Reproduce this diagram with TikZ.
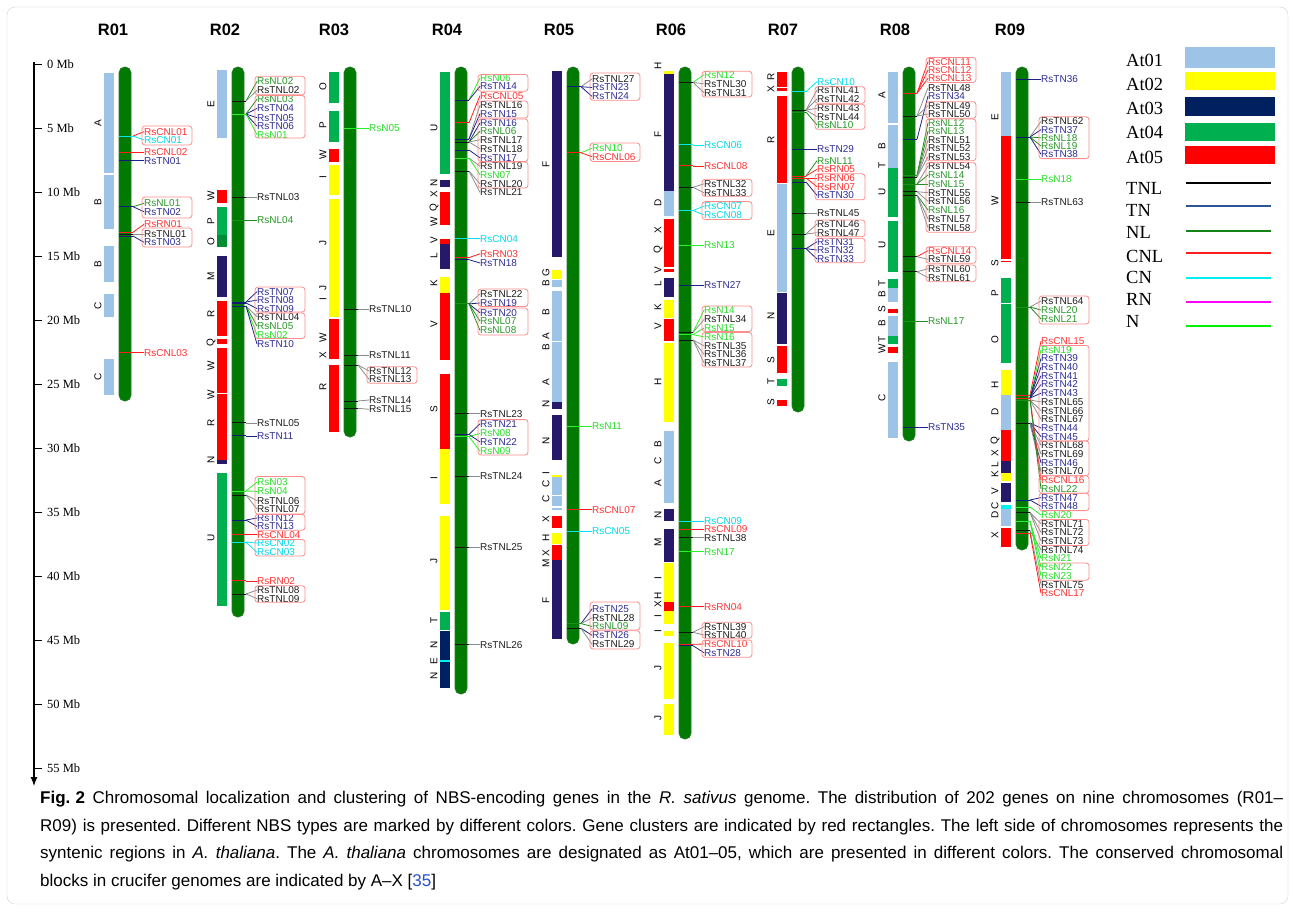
\documentclass[tikz,border=0pt]{standalone}
\usepackage{fontspec}
\setmainfont{Liberation Serif}
\newfontfamily\arialfont{Liberation Sans}
\usetikzlibrary{arrows.meta}
\frenchspacing

\definecolor{atone}{RGB}{157,195,230}
\definecolor{attwo}{RGB}{255,255,0}
\definecolor{atthree}{RGB}{0,32,96}
\definecolor{atthreeb}{RGB}{38,26,104}
\definecolor{atfour}{RGB}{0,176,80}
\definecolor{atfourd}{RGB}{0,140,50}
\definecolor{atfive}{RGB}{255,0,0}
\definecolor{chrgreen}{RGB}{0,122,0}
\definecolor{clured}{RGB}{255,140,140}
\definecolor{TNLc}{RGB}{20,20,20}   \definecolor{TNLt}{RGB}{30,30,30}   \definecolor{TNLk}{RGB}{140,140,140}
\definecolor{TNc}{RGB}{20,25,120}   \definecolor{TNt}{RGB}{45,45,150}   \definecolor{TNk}{RGB}{30,35,130}
\definecolor{NLc}{RGB}{30,140,30}   \definecolor{NLt}{RGB}{40,150,40}   \definecolor{NLk}{RGB}{30,140,30}
\definecolor{CNLc}{RGB}{255,30,30}  \definecolor{CNLt}{RGB}{255,50,50}  \definecolor{CNLk}{RGB}{255,30,30}
\definecolor{CNc}{RGB}{0,230,240}   \definecolor{CNt}{RGB}{0,215,235}   \definecolor{CNk}{RGB}{0,230,240}
\definecolor{RNc}{RGB}{255,30,30}   \definecolor{RNt}{RGB}{255,50,50}   \definecolor{RNk}{RGB}{255,30,30}
\definecolor{Nc}{RGB}{40,240,40}    \definecolor{Nt}{RGB}{40,220,40}    \definecolor{Nk}{RGB}{40,240,40}
\definecolor{legTN}{RGB}{47,85,151}
\definecolor{legNL}{RGB}{20,130,20}
\definecolor{legCN}{RGB}{0,240,240}
\definecolor{legRN}{RGB}{255,0,255}
\definecolor{legN}{RGB}{0,240,0}
\definecolor{citeblue}{RGB}{40,80,200}

\tikzset{
  chrtitle/.style={font=\arialfont\bfseries\fontsize{16.5}{17}\selectfont, inner sep=0pt},
  chrbody/.style={fill=chrgreen, draw=chrgreen!70!gray, line width=0.6pt, rounded corners=5.5pt},
  blklab/.style={font=\arialfont\fontsize{10}{10}\selectfont, rotate=90, inner sep=0pt},
  gtxt/.style={font=\arialfont\fontsize{10}{10}\selectfont, inner sep=0pt, anchor=west, text=#1t},
  gline/.style={draw=#1c, line width=1pt},
  glink/.style={draw=#1k, line width=0.8pt},
  clubox/.style={draw=clured, line width=0.8pt, rounded corners=3pt},
  mbtick/.style={font=\fontsize{12.5}{13}\selectfont, inner sep=0pt, anchor=west},
  leglab/.style={font=\fontsize{18.5}{19}\selectfont, inner sep=0pt, anchor=west},
  legline/.style={line width=2.2pt},
  captxt/.style={font=\arialfont\fontsize{17}{19}\selectfont, inner sep=0pt, anchor=base west}
}

\newcount\bltno
\newcommand\chrbar[3]{
  \node[chrtitle] (#3) at (#1,30) {#3};
  \draw[chrbody] (\bx,67) rectangle (\bx+12,#2);
}
\newcommand\blk[3]{\fill[#3] (\bx-15,#1) rectangle (\bx-5,#2);}
\newcommand\blt[2]{\global\advance\bltno by 1
  \node[blklab] (blt\the\bltno) at (\bx-21,#1) {#2};}
\newcommand\gn[4]{
  \coordinate (#4-g) at (\bx,#1);
  \coordinate (#4-e) at (\bx+14,#1);
  \node[gtxt=#3] (#4) at (\bx+25,#2) {#4};
  \draw[glink=#3] (#4-e) -- (#4.west);
  \draw[gline=#3] (#4-g) -- (#4-e);
}
\newcommand\clu[2]{\draw[clubox] (\bx+23,#1) rectangle (\bx+73,#2);}
\newcommand\capline[1]{\makebox[1243pt][s]{#1}}

\begin{document}
\begin{tikzpicture}[x=1pt, y=-1pt]
  \useasboundingbox (0,0) rectangle (1295,911);
  \draw[gray!35, rounded corners=8pt] (7,7) rectangle (1288,904);

  \coordinate (axtop) at (34,62);
  \coordinate (axend) at (34,786);
  \draw[line width=1.2pt, -{Latex[length=9pt,width=7pt]}] (axtop) -- (axend);
  \foreach \m in {0,5,...,55}{
    \draw[line width=1pt] (34,{64.3+12.8*\m}) -- ++(8,0);
    \node[mbtick] (mb\m) at (47,{64.3+12.8*\m}) {\m\ Mb};
  }

  \def\bx{119}
  \chrbar{113}{401}{R01}
  \blk{73}{173}{atone}\blk{175}{229}{atone}\blk{246}{282}{atone}
  \blk{294}{317}{atone}\blk{359}{395}{atone}
  \blt{123}{A}\blt{202}{B}\blt{264}{B}\blt{305.5}{C}\blt{377}{C}
  \gn{136}{131.7}{CNL}{RsCNL01}
  \gn{136}{140}{CN}{RsCN01}
  \gn{152.3}{152.3}{CNL}{RsCNL02}
  \gn{160.7}{160.7}{TN}{RsTN01}
  \gn{206.7}{203.3}{NL}{RsNL01}
  \gn{206.7}{211.7}{TN}{RsTN02}
  \gn{232.3}{224.3}{RN}{RsRN01}
  \gn{234}{234}{TNL}{RsTNL01}
  \gn{236}{242.3}{TN}{RsTN03}
  \gn{352.7}{352.7}{CNL}{RsCNL03}
  \clu{126}{145}\clu{197}{218}\clu{228}{247}

  \def\bx{232}
  \chrbar{225}{617}{R02}
  \blk{70}{138}{atone}\blk{190}{203}{atfive}\blk{206.5}{235}{atfour}\blk{235}{247}{atfourd}
  \blk{256}{297}{atthreeb}\blk{301}{336}{atfive}\blk{338.6}{344}{atfive}\blk{348}{393}{atfive}
  \blk{394}{460}{atfive}\blk{460}{463.5}{atthreeb}\blk{473}{606}{atfour}
  \blt{104}{E}\blt{196}{W}\blt{221}{P}\blt{241.6}{O}\blt{276.8}{M}\blt{313.8}{R}
  \blt{343}{Q}\blt{365.6}{W}\blt{395}{W}\blt{423}{R}\blt{460}{N}\blt{537.6}{U}
  \gn{101}{81.4}{NL}{RsNL02}
  \gn{101}{90.3}{TNL}{RsTNL02}
  \gn{114}{99.2}{NL}{RsNL03}
  \gn{114}{108.4}{TN}{RsTN04}
  \gn{114}{117.7}{TN}{RsTN05}
  \gn{114}{126.2}{TN}{RsTN06}
  \gn{114}{134.7}{N}{RsN01}
  \gn{197.2}{197.2}{TNL}{RsTNL03}
  \gn{220.5}{220.5}{NL}{RsNL04}
  \gn{302}{291.6}{TN}{RsTN07}
  \gn{302}{300.1}{TN}{RsTN08}
  \gn{303}{308.6}{TN}{RsTN09}
  \gn{306}{316.7}{TNL}{RsTNL04}
  \gn{306}{326}{NL}{RsNL05}
  \gn{306}{334.9}{N}{RsN02}
  \gn{306}{344.1}{TN}{RsTN10}
  \gn{422.9}{422.9}{TNL}{RsTNL05}
  \gn{435.9}{435.9}{TN}{RsTN11}
  \gn{491}{482.1}{N}{RsN03}
  \gn{491}{491.4}{N}{RsN04}
  \gn{495}{500.6}{TNL}{RsTNL06}
  \gn{495}{509.1}{TNL}{RsTNL07}
  \gn{520}{518}{TN}{RsTN12}
  \gn{520}{526.5}{TN}{RsTN13}
  \gn{534.6}{534.6}{CNL}{RsCNL04}
  \gn{542}{543.1}{CN}{RsCN02}
  \gn{542}{552.4}{CN}{RsCN03}
  \gn{580.9}{580.9}{RN}{RsRN02}
  \gn{594}{590.1}{TNL}{RsTNL08}
  \gn{594}{598.6}{TNL}{RsTNL09}
  \clu{76.3}{94.8}\clu{95.5}{138}\clu{287}{312}\clu{313}{338.5}
  \clu{476.5}{514}\clu{514.5}{530.2}\clu{539.4}{556}\clu{585.7}{602.3}

  \def\bx{344}
  \chrbar{334}{437}{R03}
  \blk{72}{103}{atfour}\blk{111}{142}{atfour}\blk{149}{162}{atfive}\blk{165}{195}{attwo}
  \blk{199}{317}{attwo}\blk{319}{359}{atfive}\blk{365}{432}{atfive}
  \blt{86.7}{O}\blt{125}{P}\blt{155}{W}\blt{176.7}{I}\blt{243.3}{J}\blt{288}{J}\blt{299}{I}
  \blt{338}{W}\blt{355}{X}\blt{387}{R}
  \gn{128.3}{128.3}{N}{RsN05}
  \gn{309.3}{309.3}{TNL}{RsTNL10}
  \gn{355}{355}{TNL}{RsTNL11}
  \gn{365}{371}{TNL}{RsTNL12}
  \gn{365}{379.3}{TNL}{RsTNL13}
  \gn{401}{400}{TNL}{RsTNL14}
  \gn{408.3}{409.3}{TNL}{RsTNL15}
  \clu{366.7}{383.3}

  \def\bx{455}
  \chrbar{447}{694}{R04}
  \blk{72}{174}{atfour}\blk{180}{187}{atthreeb}\blk{192}{225}{atfive}\blk{239}{244}{atfive}
  \blk{244}{269}{atthreeb}\blk{276.5}{292.5}{attwo}\blk{292.5}{360}{atfive}\blk{374}{449}{atfive}
  \blk{449}{504}{attwo}\blk{516}{610}{attwo}\blk{611.5}{630}{atfour}\blk{631}{659.5}{atthree}
  \blk{659.5}{662}{legCN}\blk{662}{688}{atthree}
  \blt{128}{U}\blt{183}{N}\blt{194}{X}\blt{208}{Q}\blt{222}{W}\blt{240}{V}\blt{255.5}{L}
  \blt{283}{K}\blt{324}{V}\blt{409.5}{S}\blt{477.7}{I}\blt{561}{J}\blt{620}{T}\blt{645}{N}
  \blt{661.6}{E}\blt{675.5}{N}
  \gn{100}{77.9}{N}{RsN06}
  \gn{100}{86.3}{TN}{RsTN14}
  \gn{122.9}{95.6}{CNL}{RsCNL05}
  \gn{139}{105.2}{TNL}{RsTNL16}
  \gn{139}{113.7}{TN}{RsTN15}
  \gn{142}{122.9}{TN}{RsTN16}
  \gn{142}{131.3}{NL}{RsNL06}
  \gn{142}{139.7}{TNL}{RsTNL17}
  \gn{142}{148.6}{TNL}{RsTNL18}
  \gn{150}{157.8}{TN}{RsTN17}
  \gn{158}{166.3}{TNL}{RsTNL19}
  \gn{158}{174.7}{N}{RsN07}
  \gn{171}{183.9}{TNL}{RsTNL20}
  \gn{171}{192.4}{TNL}{RsTNL21}
  \gn{238.7}{238.7}{CN}{RsCN04}
  \gn{257.6}{253.8}{RN}{RsRN03}
  \gn{259.7}{263}{TN}{RsTN18}
  \gn{303.9}{293.8}{TNL}{RsTNL22}
  \gn{303.9}{303}{TN}{RsTN19}
  \gn{303.9}{312.7}{TN}{RsTN20}
  \gn{303.9}{321.1}{NL}{RsNL07}
  \gn{303.9}{330.4}{NL}{RsNL08}
  \gn{413.7}{413.7}{TNL}{RsTNL23}
  \gn{434.4}{423.8}{TN}{RsTN21}
  \gn{436.5}{433.5}{N}{RsN08}
  \gn{434.4}{441.9}{TN}{RsTN22}
  \gn{436.5}{451.2}{N}{RsN09}
  \gn{476.5}{476.5}{TNL}{RsTNL24}
  \gn{547.2}{547.2}{TNL}{RsTNL25}
  \gn{644.8}{644.8}{TNL}{RsTNL26}
  \clu{74.5}{91.3}\clu{101}{118}\clu{119}{161.5}\clu{162}{188}
  \clu{289}{306.5}\clu{308}{335}\clu{419.6}{455}

  \def\bx{567}
  \chrbar{559}{644}{R05}
  \blk{71}{257}{atthreeb}\blk{270.4}{279.3}{attwo}\blk{280}{287}{atone}\blk{291}{341.2}{atone}
  \blk{342}{402}{atone}\blk{402}{409}{atthreeb}\blk{414.7}{460}{atthreeb}\blk{475}{477.4}{attwo}
  \blk{477.4}{495.3}{atone}\blk{496}{506}{atone}\blk{508}{510}{atone}\blk{515.5}{528.3}{atfive}
  \blk{533}{544}{attwo}\blk{544.7}{559.5}{atfive}\blk{559.5}{561.5}{atthreeb}\blk{562}{639}{atthreeb}
  \blt{164.5}{F}\blt{273}{G}\blt{283}{B}\blt{312.4}{B}\blt{335.7}{A}\blt{347.4}{B}\blt{382.4}{A}
  \blt{404}{N}\blt{440.8}{N}\blt{472.7}{I}\blt{483.6}{C}\blt{499}{C}\blt{519.4}{X}\blt{538}{H}
  \blt{552.8}{X}\blt{563.3}{M}\blt{600.3}{F}
  \gn{86.7}{78.9}{TNL}{RsTNL27}
  \gn{86.7}{87.5}{TN}{RsTN23}
  \gn{86.7}{96.4}{TN}{RsTN24}
  \gn{152.8}{148.2}{N}{RsN10}
  \gn{152.8}{156.7}{CNL}{RsCNL06}
  \gn{426}{426}{N}{RsN11}
  \gn{509.7}{509.7}{CNL}{RsCNL07}
  \gn{531.1}{531.1}{CN}{RsCN05}
  \gn{623.6}{608.9}{TN}{RsTN25}
  \gn{623.6}{617.8}{TNL}{RsTNL28}
  \gn{623.6}{626.4}{NL}{RsNL09}
  \gn{628.3}{635.3}{TN}{RsTN26}
  \gn{628.3}{644.3}{TNL}{RsTNL29}
  \clu{73}{100.3}\clu{143}{161.4}\clu{602}{630}\clu{630.7}{649}

  \def\bx{679}
  \chrbar{671}{739}{R06}
  \blk{71}{73.5}{attwo}\blk{73.5}{191}{atthreeb}\blk{191}{216}{atone}\blk{218.6}{267}{atfive}
  \blk{268.6}{272}{atfive}\blk{277.5}{297}{atthreeb}\blk{300}{318}{attwo}\blk{319}{341}{atfive}
  \blk{342.7}{421.7}{attwo}\blk{430.6}{503.4}{atone}\blk{509.3}{520.7}{atthreeb}
  \blk{529.3}{562.3}{atthreeb}\blk{563.3}{601.7}{attwo}\blk{601.7}{611}{atfive}\blk{611}{624}{attwo}
  \blk{630.7}{635.7}{attwo}\blk{642.7}{699.3}{attwo}\blk{704}{735}{attwo}
  \blt{66}{H}\blt{134}{F}\blt{203}{D}\blt{230}{X}\blt{250}{Q}\blt{270}{V}\blt{284}{L}\blt{307}{K}
  \blt{326}{V}\blt{381.5}{H}\blt{444}{B}\blt{461}{C}\blt{483}{A}\blt{515}{N}\blt{542}{M}
  \blt{578}{I}\blt{596}{H}\blt{604.3}{X}\blt{616}{I}\blt{631}{I}\blt{668}{J}\blt{718}{J}
  \gn{82.4}{74.8}{N}{RsN12}
  \gn{82.4}{83.8}{TNL}{RsTNL30}
  \gn{82.4}{92.7}{TNL}{RsTNL31}
  \gn{144.9}{144.9}{CN}{RsCN06}
  \gn{165.9}{165.9}{CNL}{RsCNL08}
  \gn{187.3}{183.8}{TNL}{RsTNL32}
  \gn{187.3}{192.7}{TNL}{RsTNL33}
  \gn{210.5}{206.1}{CN}{RsCN07}
  \gn{210.5}{215}{CN}{RsCN08}
  \gn{245.4}{245.4}{N}{RsN13}
  \gn{285.5}{285.5}{TN}{RsTN27}
  \gn{332.4}{310.1}{N}{RsN14}
  \gn{332.4}{319.5}{TNL}{RsTNL34}
  \gn{334.6}{328}{N}{RsN15}
  \gn{334.6}{336.9}{N}{RsN16}
  \gn{340}{345.8}{TNL}{RsTNL35}
  \gn{340}{354.3}{TNL}{RsTNL36}
  \gn{340}{362.8}{TNL}{RsTNL37}
  \gn{521}{521}{CN}{RsCN09}
  \gn{529.3}{529.3}{CNL}{RsCNL09}
  \gn{537.7}{537.7}{TNL}{RsTNL38}
  \gn{551.7}{551.7}{N}{RsN17}
  \gn{606.7}{606.7}{RN}{RsRN04}
  \gn{632.3}{626.7}{TNL}{RsTNL39}
  \gn{632.3}{635}{TNL}{RsTNL40}
  \gn{644.3}{644}{CNL}{RsCNL10}
  \gn{645.7}{652.7}{TN}{RsTN28}
  \clu{71.3}{97}\clu{179.3}{196.3}\clu{201.6}{219.5}\clu{306}{331.5}\clu{332.4}{367}
  \clu{622.3}{638.3}\clu{640}{657.3}

  \def\bx{792}
  \chrbar{783}{412}{R07}
  \blk{71.7}{86.7}{atfive}\blk{87.7}{90.7}{atfive}\blk{95.7}{183.3}{atfive}\blk{184}{291.7}{atone}
  \blk{292.7}{344}{atthreeb}\blk{346}{372.7}{atfive}\blk{379.3}{385.7}{atfour}\blk{400}{405.7}{atfive}
  \blt{77}{R}\blt{89}{X}\blt{140}{R}\blt{233}{E}\blt{316}{N}\blt{360}{S}\blt{381}{T}\blt{402.5}{S}
  \gn{91.7}{81.7}{CN}{RsCN10}
  \gn{110}{90}{TNL}{RsTNL41}
  \gn{110}{99}{TNL}{RsTNL42}
  \gn{110}{108.3}{TNL}{RsTNL43}
  \gn{110}{116.7}{TNL}{RsTNL44}
  \gn{112}{125}{NL}{RsNL10}
  \gn{149}{149}{TN}{RsTN29}
  \gn{176}{160.7}{NL}{RsNL11}
  \gn{176}{169.3}{RN}{RsRN05}
  \gn{178}{178}{RN}{RsRN06}
  \gn{178}{186.7}{RN}{RsRN07}
  \gn{182}{195.4}{TN}{RsTN30}
  \gn{213.3}{213.3}{TNL}{RsTNL45}
  \gn{234}{224}{TNL}{RsTNL46}
  \gn{234}{232.7}{TNL}{RsTNL47}
  \gn{248.7}{241.7}{TN}{RsTN31}
  \gn{248.7}{250}{TN}{RsTN32}
  \gn{248.7}{259}{TN}{RsTN33}
  \clu{86.7}{103.3}\clu{104.3}{129.3}\clu{173.8}{199.8}\clu{220}{236.7}\clu{238.3}{262.7}

  \def\bx{903}
  \chrbar{895}{441}{R08}
  \blk{72.3}{123.3}{atone}\blk{125}{168.3}{atone}\blk{168.3}{217.3}{atfour}\blk{220.7}{272.3}{atfour}
  \blk{279}{287.7}{atfour}\blk{288.3}{302.3}{atone}\blk{309.3}{313.3}{atfive}\blk{316}{335.7}{atone}
  \blk{336}{344}{atfour}\blk{347.3}{353.3}{atfive}\blk{361.7}{438}{atone}
  \blt{95}{A}\blt{146}{B}\blt{165}{T}\blt{191.7}{U}\blt{245}{U}\blt{283.3}{T}\blt{294.3}{B}
  \blt{309.3}{S}\blt{323.3}{B}\blt{339.3}{T}\blt{348.3}{W}\blt{398.3}{C}
  \gn{93.3}{61.7}{CNL}{RsCNL11}
  \gn{93.3}{70}{CNL}{RsCNL12}
  \gn{93.3}{78.3}{CNL}{RsCNL13}
  \gn{116}{87.7}{TNL}{RsTNL48}
  \gn{139.3}{96}{TN}{RsTN34}
  \gn{116}{105.7}{TNL}{RsTNL49}
  \gn{116}{114}{TNL}{RsTNL50}
  \gn{175}{122.7}{NL}{RsNL12}
  \gn{177}{131}{NL}{RsNL13}
  \gn{177}{140}{TNL}{RsTNL51}
  \gn{177}{148.3}{TNL}{RsTNL52}
  \gn{177}{156.7}{TNL}{RsTNL53}
  \gn{184}{166}{TNL}{RsTNL54}
  \gn{184}{175}{NL}{RsNL14}
  \gn{184}{184}{NL}{RsNL15}
  \gn{191.7}{192.7}{TNL}{RsTNL55}
  \gn{191.7}{201.3}{TNL}{RsTNL56}
  \gn{195}{210}{NL}{RsNL16}
  \gn{195}{219}{TNL}{RsTNL57}
  \gn{195}{227.7}{TNL}{RsTNL58}
  \gn{256.7}{250.7}{CNL}{RsCNL14}
  \gn{256.7}{259.3}{TNL}{RsTNL59}
  \gn{271.7}{268.7}{TNL}{RsTNL60}
  \gn{271.7}{277.7}{TNL}{RsTNL61}
  \gn{321}{321}{NL}{RsNL17}
  \gn{427.3}{427.3}{TN}{RsTN35}
  \clu{57.5}{82.5}\clu{101.7}{118.3}\clu{119}{160.7}\clu{162.7}{232.3}\clu{246.7}{263.3}
  \clu{265}{281.7}

  \def\bx{1016}
  \chrbar{1010}{550}{R09}
  \blk{72}{135.7}{atone}\blk{135.7}{258.6}{atfive}\blk{261}{262.2}{atfive}\blk{277.5}{302.5}{atfour}
  \blk{304.3}{362.6}{atfour}\blk{369.5}{394.7}{attwo}\blk{394.7}{429.8}{atone}\blk{429.8}{460.7}{atfive}
  \blk{460.7}{473}{atthreeb}\blk{473}{481.4}{attwo}\blk{482.6}{501.5}{atthreeb}\blk{505.2}{509.3}{legCN}
  \blk{509.3}{526.4}{atone}\blk{528.3}{547.1}{atfive}
  \blt{116.8}{E}\blt{200.7}{W}\blt{263.2}{S}\blt{293.6}{P}\blt{340}{O}\blt{385}{H}\blt{412}{D}
  \blt{441}{Q}\blt{453}{X}\blt{465}{L}\blt{474}{K}\blt{491.6}{V}\blt{505.8}{C}\blt{514.6}{D}
  \blt{535}{X}
  \gn{79.3}{79.3}{TN}{RsTN36}
  \gn{137}{121.4}{TNL}{RsTNL62}
  \gn{137}{129.6}{TN}{RsTN37}
  \gn{137}{137.8}{NL}{RsNL18}
  \gn{137}{146}{NL}{RsNL19}
  \gn{137}{154.3}{TN}{RsTN38}
  \gn{179.3}{179.3}{N}{RsN18}
  \gn{202.5}{202.5}{TNL}{RsTNL63}
  \gn{307}{301}{TNL}{RsTNL64}
  \gn{307}{310}{NL}{RsNL20}
  \gn{307}{319}{NL}{RsNL21}
  \gn{395}{341}{CNL}{RsCNL15}
  \gn{398}{349.7}{N}{RsN19}
  \gn{398}{358.4}{TN}{RsTN39}
  \gn{398}{367.1}{TN}{RsTN40}
  \gn{398}{375.8}{TN}{RsTN41}
  \gn{398}{384.5}{TN}{RsTN42}
  \gn{398}{393.2}{TN}{RsTN43}
  \gn{400}{401.9}{TNL}{RsTNL65}
  \gn{400}{410.6}{TNL}{RsTNL66}
  \gn{400}{419.3}{TNL}{RsTNL67}
  \gn{423}{428}{TN}{RsTN44}
  \gn{423}{436.7}{TN}{RsTN45}
  \gn{423}{445.4}{TNL}{RsTNL68}
  \gn{423}{454.1}{TNL}{RsTNL69}
  \gn{423}{462.8}{TN}{RsTN46}
  \gn{423}{471.5}{TNL}{RsTNL70}
  \gn{398}{480.2}{CNL}{RsCNL16}
  \gn{400}{488.9}{NL}{RsNL22}
  \gn{500}{497.6}{TN}{RsTN47}
  \gn{500}{506.3}{TN}{RsTN48}
  \gn{507}{515}{N}{RsN20}
  \gn{512.4}{523.7}{TNL}{RsTNL71}
  \gn{512.4}{532.4}{TNL}{RsTNL72}
  \gn{512.4}{541.1}{TNL}{RsTNL73}
  \gn{530.6}{549.8}{TNL}{RsTNL74}
  \gn{521}{558.5}{N}{RsN21}
  \gn{521}{567.2}{N}{RsN22}
  \gn{521}{575.9}{N}{RsN23}
  \gn{530.6}{584.6}{TNL}{RsTNL75}
  \gn{533.2}{593.3}{CNL}{RsCNL17}
  \clu{116.8}{158.6}\clu{296}{324}\clu{345.4}{441}\clu{441}{475.8}\clu{475.8}{493.2}
  \clu{493.2}{510.6}\clu{519.4}{545.5}\clu{562.9}{580.3}

  \fill[atone] (1185,47.3) rectangle (1275,68.3);
  \fill[attwo] (1185,71.7) rectangle (1275,90);
  \fill[atthree] (1185,97.3) rectangle (1275,116);
  \fill[atfour] (1185,122.7) rectangle (1275,141);
  \fill[atfive] (1185,146) rectangle (1275,164);
  \node[leglab] (at01) at (1126,60.7) {At01};
  \node[leglab] (at02) at (1126,84.3) {At02};
  \node[leglab] (at03) at (1126,108.3) {At03};
  \node[leglab] (at04) at (1126,132.7) {At04};
  \node[leglab] (at05) at (1126,157.3) {At05};
  \node[leglab] (legTNL) at (1126,188.3) {TNL};
  \node[leglab] (legTN) at (1126,210.7) {TN};
  \node[leglab] (legNL) at (1126,232.7) {NL};
  \node[leglab] (legCNL) at (1126,256) {CNL};
  \node[leglab] (legCN) at (1126,277.3) {CN};
  \node[leglab] (legRN) at (1126,299.3) {RN};
  \node[leglab] (legN) at (1126,321.7) {N};
  \draw[legline, black] (1186,182.7) -- (1271,182.7);
  \draw[legline, legTN] (1186,206) -- (1271,206);
  \draw[legline, legNL] (1186,230.7) -- (1271,230.7);
  \draw[legline, CNLc] (1186,253.3) -- (1271,253.3);
  \draw[legline, legCN] (1186,278) -- (1271,278);
  \draw[legline, legRN] (1186,301.7) -- (1271,301.7);
  \draw[legline, legN] (1186,326) -- (1271,326);

  \node[captxt] (cap1) at (40,803) {\capline{\textbf{Fig.\kern0.3em2} Chromosomal localization and clustering of NBS-encoding genes in the \textit{R. sativus} genome. The distribution of 202 genes on nine chromosomes (R01–}};
  \node[captxt] (cap2) at (40,831) {\capline{R09) is presented. Different NBS types are marked by different colors. Gene clusters are indicated by red rectangles. The left side of chromosomes represents the}};
  \node[captxt] (cap3) at (40,858) {\capline{syntenic regions in \textit{A. thaliana}. The \textit{A. thaliana} chromosomes are designated as At01–05, which are presented in different colors. The conserved chromosomal}};
  \node[captxt] (cap4) at (40,886) {blocks in crucifer genomes are indicated by A–X [\textcolor{citeblue}{35}]};

\end{tikzpicture}
\end{document}
